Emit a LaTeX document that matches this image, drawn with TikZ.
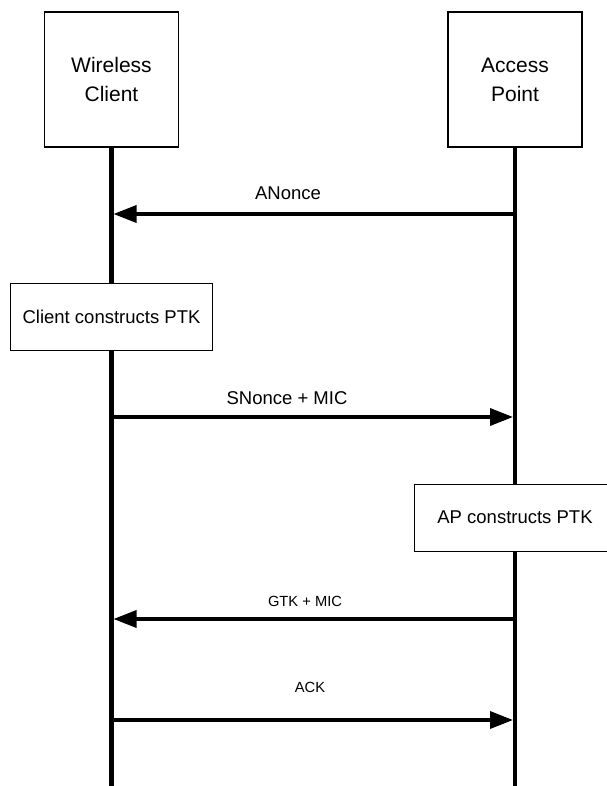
\documentclass[tikz,border=0pt]{standalone}
\usepackage{fontspec}
\setmainfont{Liberation Sans}
\usetikzlibrary{arrows.meta}
\begin{document}
\begin{tikzpicture}[x=1pt,y=-1pt,
  titlebox/.style={draw, line width=1.3pt, minimum width=134pt, minimum height=135pt, align=center, font=\fontsize{21}{29}\selectfont, inner sep=0pt},
  procbox/.style={draw, fill=white, line width=0.9pt, minimum width=202pt, minimum height=67pt, font=\fontsize{18.5}{22}\selectfont, inner sep=0pt},
  life/.style={line width=4.5pt},
  msg/.style={line width=3.5pt, -{Triangle[length=23pt,width=17pt]}},
  biglabel/.style={font=\fontsize{18.5}{22}\selectfont, inner sep=0pt},
  smalllabel/.style={font=\fontsize{14.7}{18}\selectfont, inner sep=0pt}]
\useasboundingbox (0,0) rectangle (606,786);
% participants
\node[titlebox] (wc) at (111.5,79.5) {Wireless\\Client};
\node[titlebox] (ap) at (515,79.5) {Access\\Point};
% processing boxes
\node[procbox] (cp) at (111.5,316.5) {Client constructs PTK};
\node[procbox] (app) at (515,517.5) {AP constructs PTK};
% lifeline ends
\coordinate (wcend) at (111.5,786);
\coordinate (apend) at (515,786);
% lifelines
\draw[life] (wc.south) -- (cp.north);
\draw[life] (cp.south) -- (wcend);
\draw[life] (ap.south) -- (app.north);
\draw[life] (app.south) -- (apend);
% message end points
\coordinate (m1a) at (515,214);
\coordinate (m1c) at (113.5,214);
\coordinate (m2c) at (111.5,417);
\coordinate (m2a) at (513,417);
\coordinate (m3a) at (515,619);
\coordinate (m3c) at (113.5,619);
\coordinate (m4c) at (111.5,720);
\coordinate (m4a) at (513,720);
% messages
\draw[msg] (m1a) -- (m1c);
\draw[msg] (m2c) -- (m2a);
\draw[msg] (m3a) -- (m3c);
\draw[msg] (m4c) -- (m4a);
% labels
\node[biglabel] (l1) at (288,193) {ANonce};
\node[biglabel] (l2) at (287,398) {SNonce + MIC};
\node[smalllabel] (l3) at (305,601) {GTK + MIC};
\node[smalllabel] (l4) at (310,687) {ACK};
\end{tikzpicture}
\end{document}
